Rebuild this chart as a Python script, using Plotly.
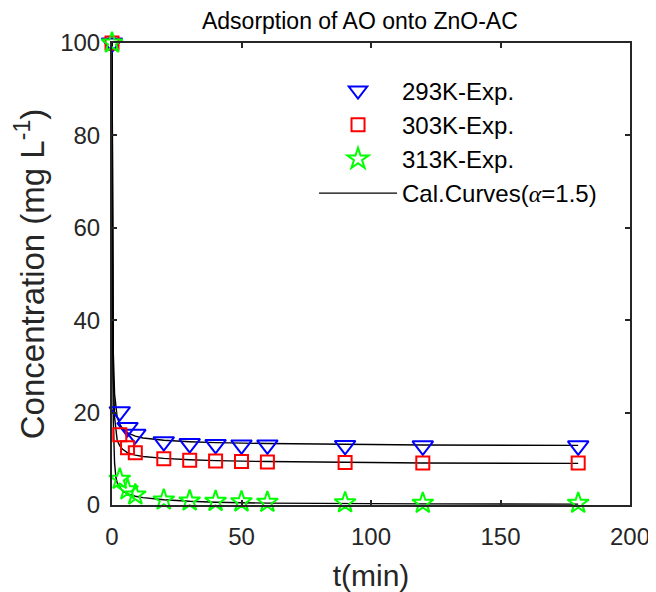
import plotly.graph_objects as go

# Experimental data
t_exp = [0, 3, 6, 9, 20, 30, 40, 50, 60, 90, 120, 180]
c_293 = [100, 20.2, 16.8, 15.3, 13.7, 13.3, 13.1, 13.0, 13.0, 12.9, 12.8, 12.8]
c_303 = [100, 15.2, 12.4, 11.3, 10.0, 9.7, 9.5, 9.4, 9.3, 9.2, 9.1, 9.1]
c_313 = [100, 5.6, 3.3, 2.2, 1.1, 0.9, 0.8, 0.7, 0.6, 0.5, 0.4, 0.4]

# Calculated curves
t_cal = [0, 0.1, 0.25, 0.5, 1, 1.5, 2, 3, 4, 6, 9, 12, 15, 20, 30, 40, 60, 90, 120, 180]
cal_293 = [100, 75, 50, 33, 24, 20.5, 19, 17.5, 16.6, 15.6, 14.9, 14.5, 14.3, 14.0, 13.7, 13.5, 13.3, 13.1, 13.0, 12.9]
cal_303 = [100, 70, 45, 28, 19, 15.5, 14, 12.8, 12.1, 11.3, 10.8, 10.5, 10.3, 10.1, 9.8, 9.6, 9.4, 9.2, 9.1, 9.0]
cal_313 = [100, 60, 35, 18, 9, 6, 4.8, 3.8, 3.1, 2.4, 1.9, 1.6, 1.4, 1.15, 0.8, 0.6, 0.4, 0.3, 0.25, 0.2]

FONT = "Arial, Liberation Sans, Helvetica, sans-serif"
AX = "#262626"

fig = go.Figure()

for i, cal in enumerate([cal_293, cal_303, cal_313]):
    fig.add_trace(go.Scatter(
        x=t_cal, y=cal, mode="lines",
        line=dict(color="black", width=1.4),
        name="Cal.Curves(<span style=\"font-family:'Liberation Serif'\"><i>α</i></span>=1.5)",
        showlegend=(i == 0), legendrank=4, legendgroup="cal",
    ))

fig.add_trace(go.Scatter(
    x=t_exp, y=c_293, mode="markers", name="293K-Exp.",
    marker=dict(symbol="triangle-down-open", size=18, color="blue", line=dict(width=2, color="blue")),
    cliponaxis=False, legendrank=1, legendgroup="a"))
fig.add_trace(go.Scatter(
    x=t_exp, y=c_303, mode="markers", name="303K-Exp.",
    marker=dict(symbol="square-open", size=13, color="red", line=dict(width=2, color="red")),
    cliponaxis=False, legendrank=2, legendgroup="b"))
fig.add_trace(go.Scatter(
    x=t_exp, y=c_313, mode="markers", name="313K-Exp.",
    marker=dict(symbol="star-open", size=16, color="#00ff00", line=dict(width=2, color="#00ff00")),
    cliponaxis=False, legendrank=3, legendgroup="c"))

axis_common = dict(
    showline=True, linecolor=AX, linewidth=2, mirror="ticks",
    ticks="inside", ticklen=5, tickwidth=1.5, tickcolor=AX,
    showgrid=False, zeroline=False, automargin=False, ticklabeloverflow="allow",
    tickfont=dict(family=FONT, size=24, color=AX),
)

# page body has an 8px margin: figure is sized/offset to compensate
fig.update_layout(
    width=648, height=584,
    margin=dict(l=104, r=26, t=35, b=87),
    plot_bgcolor="white", paper_bgcolor="white",
    font=dict(family=FONT, color=AX),
    title=dict(text="Adsorption of AO onto ZnO-AC", x=0.543, xanchor="center",
               y=0.978, yanchor="middle", font=dict(family=FONT, size=23, color="black")),
    xaxis=dict(range=[0, 200], tickvals=[0, 50, 100, 150, 200], ticklabelstandoff=9, **axis_common,
               title=dict(text="t(min)", font=dict(family=FONT, size=30, color=AX), standoff=26)),
    yaxis=dict(range=[0, 100], tickvals=[0, 20, 40, 60, 80, 100], ticklabelstandoff=5, **axis_common,
               title=dict(text="Concentration (mg L<sup>-1</sup>)", font=dict(family=FONT, size=33, color=AX), standoff=6)),
    legend=dict(x=0.39, y=0.945, xanchor="left", yanchor="top",
                bgcolor="rgba(0,0,0,0)", borderwidth=0,
                font=dict(family=FONT, size=24, color="black"),
                itemwidth=78, traceorder="grouped", tracegroupgap=0),
    showlegend=True,
)

fig.write_html("out.html")
